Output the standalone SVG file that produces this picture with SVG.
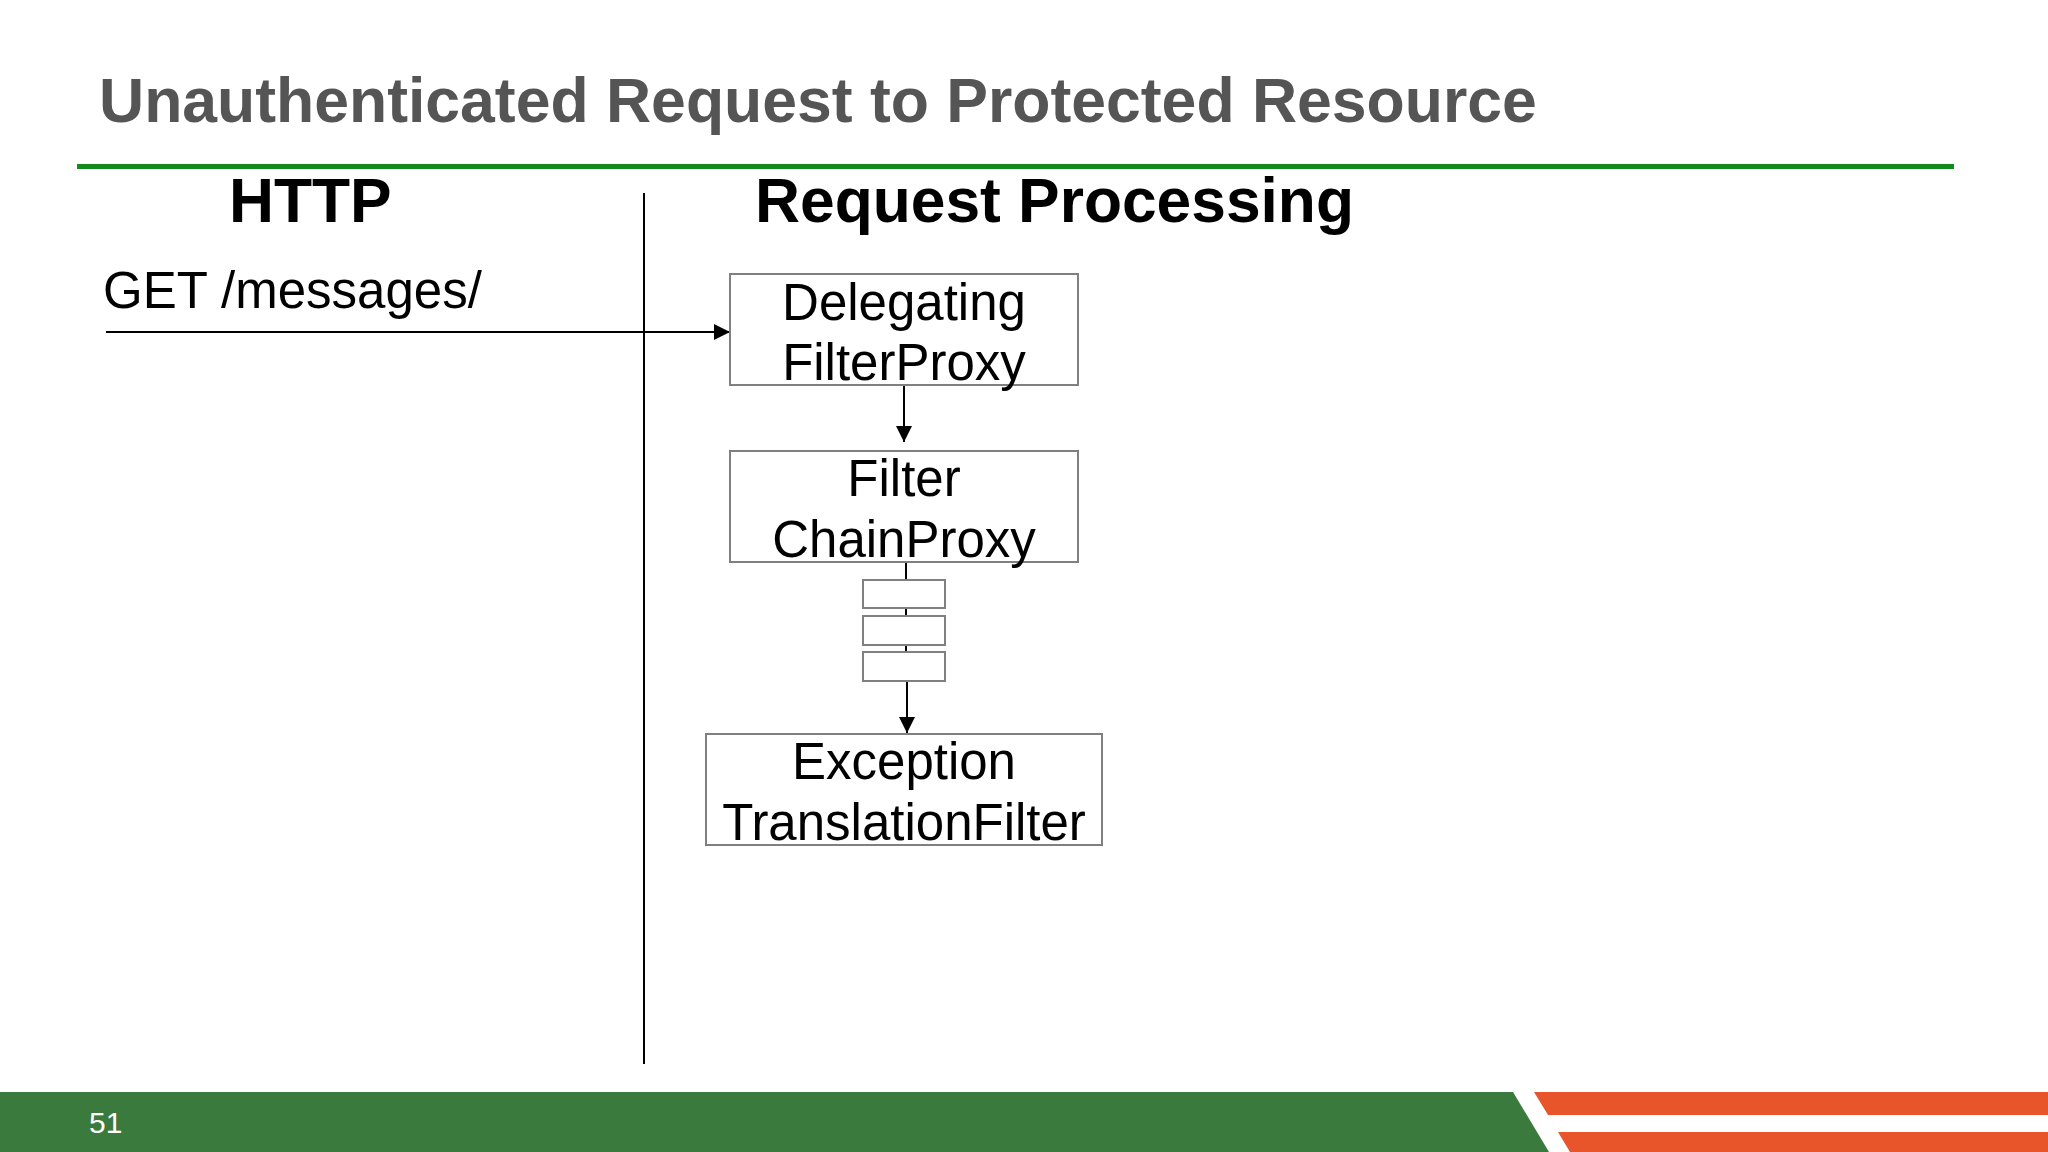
<svg xmlns="http://www.w3.org/2000/svg" width="2048" height="1152" viewBox="0 0 2048 1152">
  <style>
    .title { font-family: "Liberation Sans", Arial, sans-serif; font-weight: bold; font-size: 62.5px; fill: #555555; }
    .head { font-family: "Liberation Sans", Arial, sans-serif; font-weight: bold; font-size: 62.3px; fill: #000000; }
    .label { font-family: "Liberation Sans", Arial, sans-serif; font-size: 51px; fill: #000000; }
    .box { fill: #ffffff; stroke: #808080; stroke-width: 2; }
    .wire { fill: none; stroke: #000000; stroke-width: 2; }
    .page { font-family: "Liberation Sans", Arial, sans-serif; font-size: 30px; fill: #ffffff; }
  </style>
  <defs>
    <marker id="arrow" markerWidth="18" markerHeight="18" refX="16" refY="9" orient="auto" markerUnits="userSpaceOnUse">
      <path d="M0,1 L16,9 L0,17 Z" fill="#000000"/>
    </marker>
  </defs>

  <rect x="0" y="0" width="2048" height="1152" fill="#ffffff"/>

  <!-- slide title and rule -->
  <text class="title" x="99" y="122">Unauthenticated Request to Protected Resource</text>
  <rect x="77" y="164" width="1877" height="5" fill="#138a1a"/>

  <!-- column headings -->
  <text class="head" x="229" y="222">HTTP</text>
  <text class="head" x="755" y="222">Request Processing</text>

  <!-- column divider -->
  <line x1="644" y1="193" x2="644" y2="1064" stroke="#000000" stroke-width="2"/>

  <text class="label" x="103" y="308">GET /messages/</text>

  <!-- connectors -->
  <g id="connectors">
    <line class="wire" x1="106" y1="332" x2="730" y2="332" marker-end="url(#arrow)"/>
    <line class="wire" x1="904" y1="385" x2="904" y2="442" marker-end="url(#arrow)"/>
    <line class="wire" x1="906" y1="562" x2="906" y2="652"/>
    <line class="wire" x1="907" y1="681" x2="907" y2="733" marker-end="url(#arrow)"/>
  </g>

  <g id="delegating-filter-proxy">
    <rect class="box" x="730" y="274" width="348" height="111"/>
    <text class="label" x="904" y="320" text-anchor="middle">Delegating</text>
    <text class="label" x="904" y="380" text-anchor="middle">FilterProxy</text>
  </g>

  <g id="filter-chain-proxy">
    <rect class="box" x="730" y="451" width="348" height="111"/>
    <text class="label" x="904" y="496" text-anchor="middle">Filter</text>
    <text class="label" x="904" y="557" text-anchor="middle">ChainProxy</text>
  </g>

  <g id="chain-filter-1">
    <rect class="box" x="863" y="580" width="82" height="28"/>
  </g>
  <g id="chain-filter-2">
    <rect class="box" x="863" y="616" width="82" height="29"/>
  </g>
  <g id="chain-filter-3">
    <rect class="box" x="863" y="652" width="82" height="29"/>
  </g>

  <g id="exception-translation-filter">
    <rect class="box" x="706" y="734" width="396" height="111"/>
    <text class="label" x="904" y="779" text-anchor="middle">Exception</text>
    <text class="label" x="904" y="840" text-anchor="middle">TranslationFilter</text>
  </g>

  <!-- footer band -->
  <polygon points="0,1092 1513,1092 1549,1152 0,1152" fill="#3a7b3d"/>
  <polygon points="1534,1092 2048,1092 2048,1115 1548,1115" fill="#e8552a"/>
  <polygon points="1558,1132 2048,1132 2048,1152 1570,1152" fill="#e8552a"/>
  <text class="page" x="89" y="1133">51</text>
</svg>
